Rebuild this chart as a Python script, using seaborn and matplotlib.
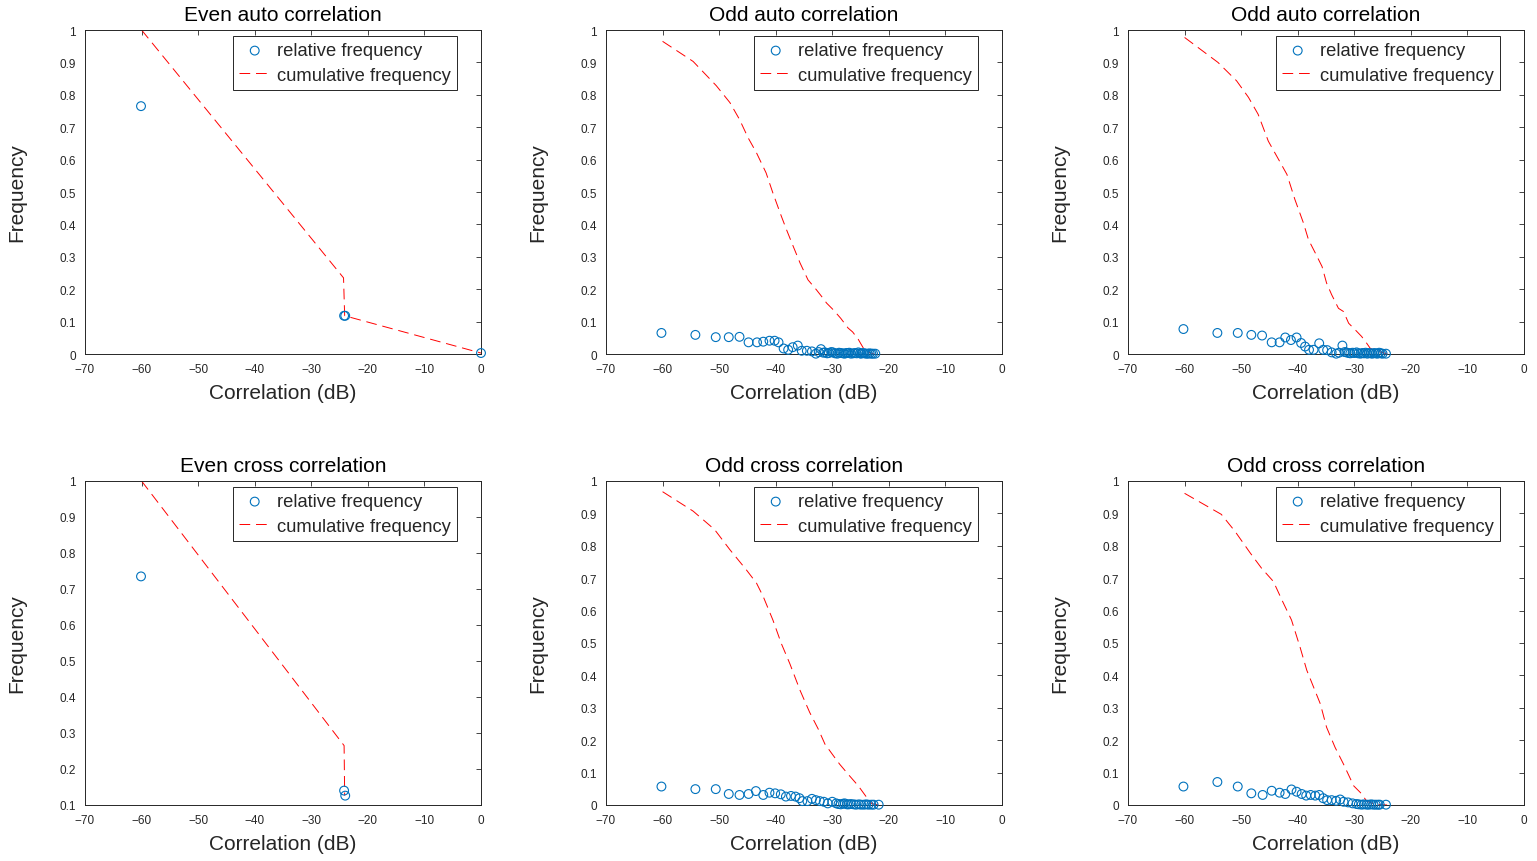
import numpy as np
import pandas as pd
import matplotlib
matplotlib.use("Agg")
import matplotlib.pyplot as plt
from matplotlib.ticker import FormatStrFormatter, MultipleLocator
import seaborn as sns

# even auto correlation
ea_x = [-60.1, -24.2, -24.0, 0.0]
ea_y = [0.765, 0.118, 0.118, 0.003]
ea_cum_x = [-60.0, -24.3, -24.1, 0.0]
ea_cum_y = [1.0, 0.235, 0.118, 0.003]

# odd auto correlation (first)
oa_x = [-60.2, -54.2, -50.6, -48.3, -46.4, -44.8, -43.3, -42.2, -41.1, -40.2,
        -39.5, -38.6, -37.8, -37.0, -36.1, -35.4, -34.5, -33.6, -32.9, -32.4,
        -32.0, -31.6, -31.3, -30.9, -30.6, -30.2, -29.9, -29.5, -29.1, -28.8,
        -28.5, -28.1, -27.8, -27.5, -27.3, -27.0, -26.7, -26.3, -26.0, -25.7,
        -25.4, -25.1, -24.9, -24.6, -24.3, -24.0, -23.7, -23.4, -23.1, -22.8, -22.4]
oa_y = [0.065, 0.059, 0.052, 0.052, 0.053, 0.036, 0.036, 0.038, 0.041, 0.041,
        0.036, 0.017, 0.013, 0.021, 0.026, 0.010, 0.010, 0.008, 0.001, 0.006,
        0.015, 0.004, 0.005, 0.002, 0.003, 0.006, 0.005, 0.002, 0.001, 0.004,
        0.003, 0.002, 0.001, 0.003, 0.003, 0.004, 0.001, 0.002, 0.003, 0.002,
        0.005, 0.002, 0.001, 0.003, 0.002, 0.001, 0.001, 0.002, 0.001, 0.001, 0.001]
oa_cum_x = [-60.0, -54.6, -50.5, -48.1, -46.4, -44.9, -43.4, -41.7, -40.5, -39.0,
            -38.1, -36.9, -35.7, -34.3, -32.8, -31.9, -31.0, -29.8, -28.5, -27.2,
            -26.4, -25.4, -24.5, -23.7, -22.6]
oa_cum_y = [0.965, 0.903, 0.828, 0.776, 0.724, 0.668, 0.621, 0.559, 0.497, 0.425,
            0.384, 0.332, 0.281, 0.229, 0.198, 0.178, 0.157, 0.136, 0.110, 0.080,
            0.068, 0.045, 0.018, 0.006, 0.0]

# odd auto correlation (second)
ob_x = [-60.2, -54.2, -50.6, -48.2, -46.3, -44.6, -43.2, -42.2, -41.2, -40.2,
        -39.4, -38.7, -38.0, -37.2, -36.2, -35.5, -34.8, -34.0, -33.2, -32.7,
        -32.1, -31.7, -31.4, -31.0, -30.7, -30.3, -30.0, -29.6, -29.3, -28.9,
        -28.6, -28.3, -28.0, -27.7, -27.4, -27.1, -26.8, -26.5, -26.2, -25.9,
        -25.6, -25.3, -25.0, -24.4]
ob_y = [0.077, 0.065, 0.065, 0.059, 0.057, 0.036, 0.036, 0.051, 0.043, 0.051,
        0.034, 0.023, 0.013, 0.013, 0.033, 0.013, 0.012, 0.005, 0.001, 0.004,
        0.026, 0.006, 0.005, 0.003, 0.002, 0.004, 0.003, 0.005, 0.002, 0.001,
        0.003, 0.002, 0.004, 0.001, 0.003, 0.002, 0.001, 0.003, 0.002, 0.001,
        0.004, 0.002, 0.001, 0.001]
ob_cum_x = [-60.0, -54.1, -50.8, -48.7, -47.0, -45.2, -43.4, -41.9, -40.5, -39.0,
            -38.1, -36.9, -35.7, -34.9, -34.0, -32.8, -31.9, -31.0, -29.8, -28.7,
            -27.8, -27.2, -26.3, -25.1, -24.2]
ob_cum_y = [0.977, 0.900, 0.843, 0.792, 0.740, 0.657, 0.601, 0.554, 0.477, 0.405,
            0.353, 0.312, 0.270, 0.219, 0.183, 0.141, 0.131, 0.095, 0.074, 0.054,
            0.033, 0.018, 0.010, 0.005, 0.0]

# even cross correlation
ec_x = [-60.1, -24.2, -24.0]
ec_y = [0.735, 0.140, 0.126]
ec_cum_x = [-60.0, -24.2, -24.1]
ec_cum_y = [1.0, 0.265, 0.126]

# odd cross correlation (first)
oc_x = [-60.2, -54.2, -50.6, -48.3, -46.4, -44.8, -43.5, -42.2, -41.1, -40.1,
        -39.1, -38.2, -37.3, -36.5, -35.8, -35.3, -34.4, -33.6, -32.9, -32.2,
        -31.5, -30.8, -30.0, -29.3, -28.9, -28.5, -28.1, -27.8, -27.4, -27.1,
        -26.7, -26.2, -25.8, -25.3, -24.9, -24.4, -24.0, -23.6, -23.1, -22.7, -21.8]
oc_y = [0.057, 0.049, 0.049, 0.034, 0.031, 0.034, 0.043, 0.031, 0.038, 0.036,
        0.033, 0.026, 0.028, 0.026, 0.021, 0.012, 0.012, 0.019, 0.015, 0.012,
        0.010, 0.005, 0.010, 0.005, 0.003, 0.002, 0.004, 0.005, 0.002, 0.002,
        0.003, 0.002, 0.001, 0.002, 0.001, 0.001, 0.002, 0.001, 0.001, 0.001, 0.001]
oc_cum_x = [-60.0, -54.6, -50.8, -48.1, -45.2, -43.4, -42.2, -40.5, -39.0, -37.5,
            -35.7, -34.0, -32.5, -31.3, -29.8, -28.7, -27.2, -25.4, -23.9, -23.0, -21.9]
oc_cum_y = [0.967, 0.907, 0.850, 0.788, 0.726, 0.685, 0.643, 0.571, 0.498, 0.436,
            0.354, 0.286, 0.235, 0.188, 0.152, 0.126, 0.095, 0.059, 0.023, 0.004, 0.0]

# odd cross correlation (second)
od_x = [-60.2, -54.2, -50.6, -48.2, -46.2, -44.6, -43.2, -42.2, -41.1, -40.2,
        -39.3, -38.5, -37.7, -36.9, -36.2, -35.5, -34.8, -34.0, -33.2, -32.5,
        -31.9, -31.1, -30.3, -29.6, -29.2, -28.7, -28.3, -27.8, -27.4, -27.0,
        -26.6, -26.2, -25.8, -25.5, -24.4]
od_y = [0.057, 0.071, 0.057, 0.036, 0.031, 0.044, 0.038, 0.034, 0.048, 0.041,
        0.034, 0.029, 0.031, 0.029, 0.031, 0.021, 0.015, 0.015, 0.013, 0.017,
        0.010, 0.008, 0.005, 0.003, 0.002, 0.001, 0.002, 0.001, 0.001, 0.002,
        0.001, 0.001, 0.001, 0.001, 0.001]
od_cum_x = [-60.0, -55.5, -53.5, -51.1, -48.4, -46.4, -44.3, -42.8, -41.1, -39.6,
            -38.4, -37.2, -36.0, -34.9, -33.4, -31.9, -30.1, -28.9, -27.8, -26.3, -24.2]
od_cum_y = [0.962, 0.917, 0.897, 0.845, 0.778, 0.731, 0.690, 0.633, 0.571, 0.488,
            0.416, 0.364, 0.312, 0.240, 0.178, 0.126, 0.059, 0.038, 0.012, 0.002, 0.0]

panels = [
    ("Even auto correlation", ea_x, ea_y, ea_cum_x, ea_cum_y, 0.0),
    ("Odd auto correlation", oa_x, oa_y, oa_cum_x, oa_cum_y, 0.0),
    ("Odd auto correlation", ob_x, ob_y, ob_cum_x, ob_cum_y, 0.0),
    ("Even cross correlation", ec_x, ec_y, ec_cum_x, ec_cum_y, 0.1),
    ("Odd cross correlation", oc_x, oc_y, oc_cum_x, oc_cum_y, 0.0),
    ("Odd cross correlation", od_x, od_y, od_cum_x, od_cum_y, 0.0),
]

sns.set_style("white")
plt.rcParams['font.family'] = ['Liberation Sans', 'DejaVu Sans']

W, H = 1537, 862
fig = plt.figure(figsize=(W / 100, H / 100), dpi=100)

lefts = [85, 606, 1128]
tops = [31, 482]
aw, ah = 396, 324
dark = '#262626'

for i, (title, px, py, cx, cy, ymin) in enumerate(panels):
    r, c = divmod(i, 3)
    ax = fig.add_axes([lefts[c] / W, 1 - (tops[r] + ah) / H, aw / W, ah / H])

    # relative frequency markers
    sns.scatterplot(x=px, y=py, ax=ax, marker='o', s=40, linewidth=0.8,
                    label='relative frequency', zorder=3, clip_on=False)
    pts = ax.collections[-1]
    pts.set_facecolor('none')
    pts.set_edgecolor('#0072BD')

    # cumulative frequency line
    sns.lineplot(x=cx, y=cy, ax=ax, color='red', linewidth=0.7,
                 linestyle=(0, (11, 6)), sort=False, estimator=None,
                 label='cumulative frequency', zorder=2)

    ax.set_xlim(-70, 0)
    ax.set_ylim(ymin, 1)
    ax.xaxis.set_major_locator(MultipleLocator(10))
    ax.yaxis.set_major_locator(MultipleLocator(0.1))
    ax.yaxis.set_major_formatter(FormatStrFormatter('%g'))
    ax.tick_params(direction='in', length=3.5, width=0.6, colors=dark,
                   labelsize=8.5, top=True, right=True, pad=6.5)
    for sp in ax.spines.values():
        sp.set_color(dark)
        sp.set_linewidth(0.7)

    ax.set_title(title, fontsize=15, pad=7.5, color='black')
    ax.set_xlabel('Correlation (dB)', fontsize=15, labelpad=6, color=dark)
    ax.set_ylabel('Frequency', fontsize=15, labelpad=24, color=dark)

    leg = ax.legend(loc='upper right', bbox_to_anchor=(1 - 24 / aw, 1 - 6 / ah),
                    borderaxespad=0, fontsize=13.2, frameon=True, fancybox=False,
                    handlelength=1.7, handletextpad=0.35, borderpad=0.35,
                    labelspacing=0.4, edgecolor=dark, framealpha=1)
    leg.get_frame().set_linewidth(0.7)

plt.savefig("out.png", dpi=100)
